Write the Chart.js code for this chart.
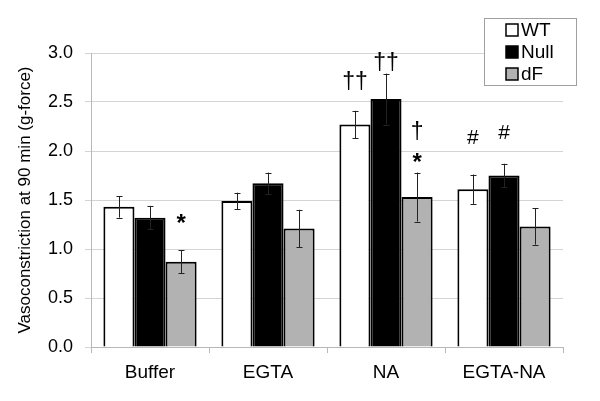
<!DOCTYPE html>
<html>
<head>
<meta charset="utf-8">
<script src="https://cdn.jsdelivr.net/npm/chart.js@4.4.0/dist/chart.umd.min.js"></script>
<style>
    html, body { margin: 0; padding: 0; background: #fff; }
    #wrap { width: 600px; height: 401px; }
</style>
</head>
<body>
<div id="wrap"><canvas id="vasochart"></canvas></div>
<script>
const categories = ["Buffer", "EGTA", "NA", "EGTA-NA"];
const seriesNames = ["WT", "Null", "dF"];

const wtValues = [1.43, 1.49, 2.27, 1.61];
const nullValues = [1.32, 1.67, 2.53, 1.75];
const dfValues = [0.87, 1.21, 1.53, 1.23];

const wtErrors = [0.11, 0.085, 0.14, 0.15];
const nullErrors = [0.12, 0.11, 0.26, 0.12];
const dfErrors = [0.115, 0.19, 0.25, 0.185];

const yTicks = [0, 0.5, 1.0, 1.5, 2.0, 2.5, 3.0];

// significance marks: [series index, category index, text, value where the mark sits]
const marks = [
    [2, 0, "*", 1.29],
    [0, 2, "††", 2.70],
    [1, 2, "††", 2.89],
    [2, 2, "†", 2.19],
    [2, 2, "*", 1.91],
    [0, 3, "#", 2.13],
    [1, 3, "#", 2.18]
];

const fillColors = ["#ffffff", "#000000", "#b2b2b2"];
const errorSets = [wtErrors, nullErrors, dfErrors];
const FONT = "'Liberation Sans', Arial, sans-serif";

// error bars drawn on top of the bars
const errorBarPlugin = {
    id: "errorbars",
    afterDatasetsDraw(chart) {
        const ctx = chart.ctx;
        const yScale = chart.scales.y;
        ctx.save();
        ctx.strokeStyle = "#222";
        ctx.lineWidth = 1;
        chart.data.datasets.forEach((ds, i) => {
            const meta = chart.getDatasetMeta(i);
            meta.data.forEach((bar, j) => {
                const v = ds.data[j];
                const e = errorSets[i][j];
                const top = yScale.getPixelForValue(v + e);
                const bot = yScale.getPixelForValue(v - e);
                const x = Math.round(bar.x) + 0.5;
                ctx.beginPath();
                ctx.moveTo(x, top);
                ctx.lineTo(x, bot);
                ctx.moveTo(x - 3, Math.round(top) + 0.5);
                ctx.lineTo(x + 3, Math.round(top) + 0.5);
                ctx.moveTo(x - 3, Math.round(bot) + 0.5);
                ctx.lineTo(x + 3, Math.round(bot) + 0.5);
                ctx.stroke();
            });
        });
        ctx.restore();
    }
};

// asterisks, daggers and hashes
const marksPlugin = {
    id: "marks",
    afterDatasetsDraw(chart) {
        const ctx = chart.ctx;
        const yScale = chart.scales.y;
        ctx.save();
        ctx.fillStyle = "#000";
        ctx.textAlign = "center";
        ctx.textBaseline = "middle";
        marks.forEach(m => {
            const bar = chart.getDatasetMeta(m[0]).data[m[1]];
            const y = yScale.getPixelForValue(m[3]);
            if (m[2] === "*") {
                ctx.font = "bold 24px " + FONT;
                ctx.fillText(m[2], bar.x, y + 4);
            } else if (m[2] === "#") {
                ctx.font = "21px " + FONT;
                ctx.fillText(m[2], bar.x, y);
            } else {
                ctx.font = "23px " + FONT;
                ctx.fillText(m[2], bar.x, y);
            }
        });
        ctx.restore();
    }
};

// boxed legend in the upper right
const boxLegendPlugin = {
    id: "boxlegend",
    afterDraw(chart) {
        const ctx = chart.ctx;
        const x0 = 484, y0 = 18, w = 92, h = 67;
        ctx.save();
        ctx.fillStyle = "#fff";
        ctx.fillRect(x0, y0, w, h);
        ctx.strokeStyle = "#a0a0a0";
        ctx.lineWidth = 1;
        ctx.strokeRect(x0 + 0.5, y0 + 0.5, w, h);
        ctx.font = "19px " + FONT;
        ctx.textBaseline = "middle";
        ctx.textAlign = "left";
        seriesNames.forEach((name, i) => {
            const cy = y0 + 12 + i * 22;
            ctx.fillStyle = fillColors[i];
            ctx.fillRect(506, cy - 6, 12, 12);
            ctx.strokeStyle = "#000";
            ctx.lineWidth = 1.5;
            ctx.strokeRect(506, cy - 6, 12, 12);
            ctx.fillStyle = "#000";
            ctx.fillText(name, 521, cy + 1);
        });
        ctx.restore();
    }
};

const vasoChart = new Chart(document.getElementById("vasochart"), {
    type: "bar",
    data: {
        labels: categories,
        datasets: [
            { label: seriesNames[0], data: wtValues, backgroundColor: fillColors[0], borderColor: "#000", borderWidth: 2 },
            { label: seriesNames[1], data: nullValues, backgroundColor: fillColors[1], borderColor: "#000", borderWidth: 2 },
            { label: seriesNames[2], data: dfValues, backgroundColor: fillColors[2], borderColor: "#000", borderWidth: 2 }
        ]
    },
    options: {
        responsive: true,
        maintainAspectRatio: false,
        animation: false,
        categoryPercentage: 0.79,
        barPercentage: 1.0,
        layout: { padding: { left: 0, right: 37, top: 53, bottom: 0 } },
        plugins: {
            legend: { display: false },
            tooltip: { enabled: false }
        },
        scales: {
            x: {
                grid: { offset: true, drawOnChartArea: false, tickLength: 6, color: "#b8b8b8" },
                border: { color: "#b8b8b8" },
                ticks: { color: "#000", font: { family: FONT, size: 19 }, padding: 8 },
                afterFit(scale) { scale.height = 54; }
            },
            y: {
                min: 0,
                max: 3,
                afterBuildTicks(scale) { scale.ticks = yTicks.map(v => ({ value: v })); },
                grid: { color: "#d4d4d4", tickLength: 6 },
                border: { color: "#b8b8b8" },
                ticks: {
                    color: "#000",
                    font: { family: FONT, size: 18 },
                    padding: 12,
                    callback: v => Number(v).toFixed(1)
                },
                title: {
                    display: true,
                    text: "Vasoconstriction at 90 min (g-force)",
                    color: "#000",
                    font: { family: FONT, size: 17 },
                    padding: { top: 15, bottom: 0 }
                },
                afterFit(scale) { scale.width = 91; }
            }
        }
    },
    plugins: [errorBarPlugin, marksPlugin, boxLegendPlugin]
});
</script>
</body>
</html>
